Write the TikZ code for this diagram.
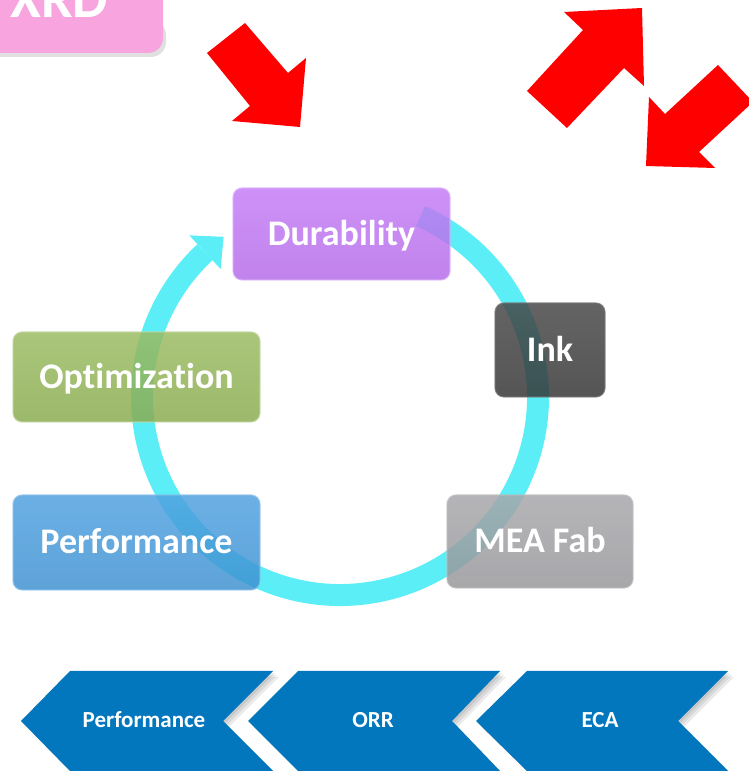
\documentclass[tikz,border=0pt]{standalone}
\usepackage{fontspec}
\setmainfont{Carlito}[Ligatures={NoCommon,NoContextual,NoRare}]
\usetikzlibrary{calc}
\begin{document}
\begin{tikzpicture}[x=1pt,y=1pt]
\definecolor{pinkc}{RGB}{247,164,223}
\definecolor{ringc}{RGB}{92,238,246}
\definecolor{durc}{RGB}{192,114,246}
\definecolor{optc}{RGB}{146,182,84}
\definecolor{inkc}{RGB}{56,56,56}
\definecolor{meac}{RGB}{160,160,164}
\definecolor{perc}{RGB}{66,154,222}
\definecolor{chevc}{RGB}{2,119,190}
\tikzset{
  boxlbl/.style={font=\bfseries\fontsize{36}{36}\selectfont, text=white,
    text height=23pt, text depth=0pt, rounded corners=9pt, inner sep=0pt,
    fill opacity=0.84, text opacity=1, line width=1.2pt, draw opacity=0.7},
  chevlbl/.style={font=\bfseries\fontsize{23}{23}\selectfont, text=white,
    text height=15pt, text depth=0pt, inner sep=0pt},
  redarrow/.style={fill=red},
  chevshape/.style={fill=chevc},
  chevshadow/.style={fill=black, opacity=0.08}
}
\useasboundingbox (0,0) rectangle (749,771);
\clip (0,0) rectangle (749,771);
\begin{scope}[yshift=771pt]
% XRD box
\fill[black, opacity=0.12, rounded corners=15pt] (-20,-20) rectangle (166,-57);
\fill[pinkc, rounded corners=15pt] (-20,20) rectangle (163,-53);
\node[anchor=base, font=\bfseries\fontsize{56}{56}\selectfont, text=white, inner sep=0pt] (xrd) at (59,-18) {XRD};

% red arrows
\fill[redarrow] (207,-53) -- (245,-23) -- (288,-73) -- (306,-58) -- (300,-127) -- (232,-121) -- (250,-106) -- cycle;
\fill[redarrow] (527,-91) -- (583,-30) -- (564,-12) -- (642,-8) -- (644,-86) -- (624,-68) -- (567,-128) -- cycle;
\fill[redarrow] (718,-65) -- (753,-102) -- (699,-152) -- (715,-168) -- (646,-166) -- (649,-97) -- (665,-114) -- cycle;

% cycle ring
\coordinate (cc) at (340,-397);
\draw[ringc, line width=22pt] (cc) ++(66:198) arc[start angle=66, end angle=-227, radius=198];
\fill[ringc] ($(cc)+(133:221)$) coordinate (hb1) -- ($(cc)+(126:198)$) coordinate (htip) -- ($(cc)+(133:175)$) coordinate (hb2) -- cycle;

% boxes
\node[boxlbl, top color=durc!93!white, bottom color=durc!94!black, draw=durc!55!white,
  minimum width=217pt, minimum height=92pt] (dur) at (341.5,-234) {Durability};
\node[boxlbl, top color=optc!93!white, bottom color=optc!94!black, draw=optc!55!white,
  minimum width=247pt, minimum height=90pt] (opt) at (136.5,-377) {Optimization};
\node[boxlbl, top color=inkc!93!white, bottom color=inkc!94!black, draw=inkc!70!white,
  minimum width=110pt, minimum height=94pt] (ink) at (550,-350) {Ink};
\node[boxlbl, top color=meac!93!white, bottom color=meac!94!black, draw=meac!70!white,
  minimum width=186pt, minimum height=93pt] (mea) at (540,-541.5) {MEA Fab};
\node[boxlbl, top color=perc!93!white, bottom color=perc!94!black, draw=perc!60!white,
  minimum width=247pt, minimum height=95pt] (perf) at (136.5,-542.5) {Performance};

% chevrons
\foreach \xl/\tl/\tr/\nt in {21/70/273/223, 248/298/500/452, 476/527/728/678}{
  \foreach \s in {2,4,6}{
    \fill[chevshadow] (\xl+\s,-721-\s) -- (\tl+\s,-671-\s) -- (\tr+\s,-671-\s) -- (\nt+\s,-721-\s) -- (\tr+\s,-771-\s) -- (\tl+\s,-771-\s) -- cycle;
  }
}
\foreach \xl/\tl/\tr/\nt in {21/70/273/223, 248/298/500/452, 476/527/728/678}{
  \fill[chevshape] (\xl,-721) -- (\tl,-671) -- (\tr,-671) -- (\nt,-721) -- (\tr,-771) -- (\tl,-771) -- cycle;
}
\node[chevlbl] (c1) at (144,-720.5) {Performance};
\node[chevlbl] (c2) at (373,-720.5) {ORR};
\node[chevlbl] (c3) at (600,-720.5) {ECA};
\end{scope}
\end{tikzpicture}
\end{document}
